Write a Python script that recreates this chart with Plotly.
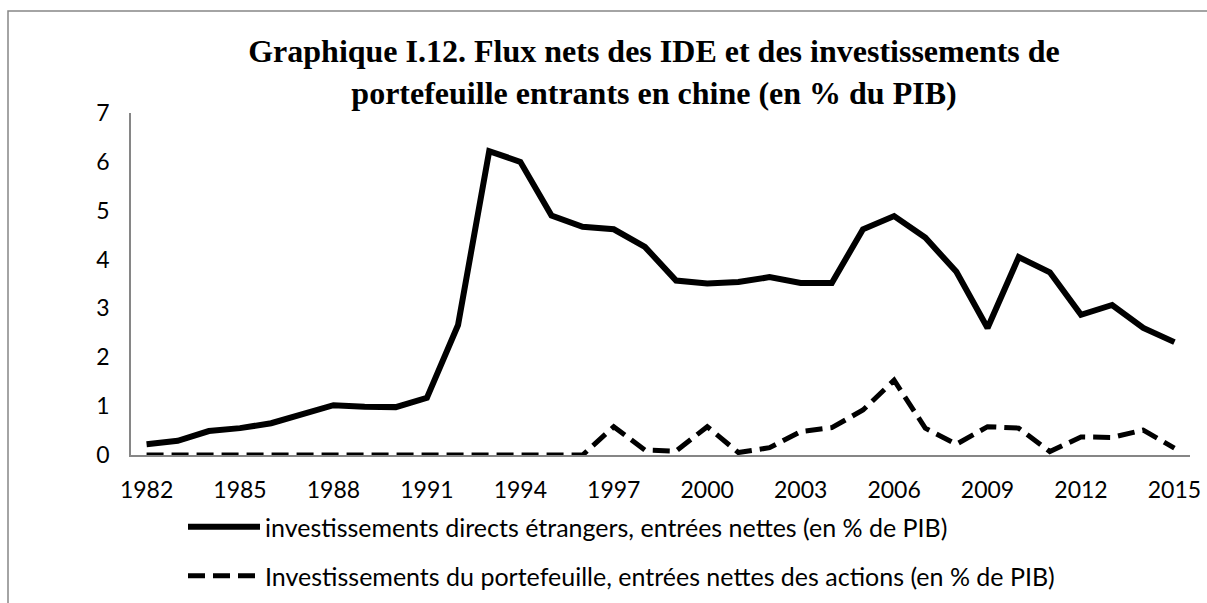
import plotly.graph_objects as go

years = [str(y) for y in range(1982, 2016)]
ide = [0.22, 0.29, 0.49, 0.55, 0.65, 0.85, 1.02, 0.99, 0.98, 1.17, 2.66, 6.22, 6.0, 4.9,
       4.67, 4.62, 4.26, 3.57, 3.51, 3.54, 3.64, 3.52, 3.52, 4.62, 4.89, 4.45, 3.75, 2.6,
       4.05, 3.74, 2.87, 3.07, 2.6, 2.31]
portefeuille = [0.0, 0.0, 0.0, 0.0, 0.0, 0.0, 0.0, 0.0, 0.0, 0.0, 0.0, 0.0, 0.0, 0.0,
                0.0, 0.58, 0.1, 0.08, 0.58, 0.05, 0.15, 0.48, 0.56, 0.92, 1.53, 0.55, 0.22,
                0.58, 0.55, 0.07, 0.37, 0.36, 0.51, 0.14]

name_ide = "investissements directs étrangers, entrées nettes (en % de PIB)"
name_pf = "Investissements du portefeuille, entrées nettes des actions (en % de PIB)"
title_text = ("Graphique I.12. Flux nets des IDE et des investissements de<br>"
              "portefeuille entrants en chine (en % du PIB)")

W, H = 1207, 603
L, R, T, B = 131, 17, 113, 148
pw, ph = W - L - R, H - T - B

def px(x):
    return (x - L) / pw

def py(y):
    return (H - B - y) / ph

fig = go.Figure()
fig.add_trace(go.Scatter(x=years, y=portefeuille, mode="lines", name=name_pf,
                         line=dict(color="black", width=5, dash="17px,8px"),
                         legend="legend2"))
fig.add_trace(go.Scatter(x=years, y=ide, mode="lines", name=name_ide,
                         line=dict(color="black", width=6), legend="legend"))

tick_font = dict(family="Lato, Calibri, Carlito, sans-serif", size=23, color="black")
legend_font = dict(family="Lato, Calibri, Carlito, sans-serif", size=25, color="black")

border_path = "M {x0},{y0} L {x0},{y1} L {x1},{y1}".format(
    x0=px(8), y0=py(620), y1=py(11), x1=px(1230))

fig.update_layout(
    width=W, height=H,
    margin=dict(l=L, r=R, t=T, b=B, autoexpand=False),
    paper_bgcolor="white", plot_bgcolor="white",
    title=dict(text=title_text, x=px(654), xref="paper", xanchor="center",
               y=1 - 62 / H, yref="container", yanchor="top",
               font=dict(family="Liberation Serif, Times New Roman, serif", size=32,
                         color="black", weight="bold")),
    xaxis=dict(type="category", tickmode="linear", tick0=0, dtick=3,
               range=[-0.5, len(years) - 0.5],
               showline=True, linecolor="#868686", linewidth=1.5,
               showgrid=False, zeroline=False, ticks="",
               tickfont=tick_font, ticklabelstandoff=14),
    yaxis=dict(range=[0, 7], dtick=1, showline=True, linecolor="#868686",
               linewidth=1.5, showgrid=False, zeroline=False, ticks="",
               tickfont=tick_font, ticklabelstandoff=15),
    showlegend=True,
    legend=dict(x=183 / W, y=1 - 527 / H, xref="container", yref="container",
                xanchor="left", yanchor="middle",
                orientation="h", itemwidth=72, font=legend_font,
                bgcolor="rgba(0,0,0,0)"),
    legend2=dict(x=183 / W, y=1 - 576 / H, xref="container", yref="container",
                 xanchor="left", yanchor="middle",
                 orientation="h", itemwidth=72, font=legend_font,
                 bgcolor="rgba(0,0,0,0)"),
    shapes=[dict(type="path", xref="paper", yref="paper", path=border_path,
                 line=dict(color="#868686", width=1.5), layer="below")],
)

fig.write_html("out.html", config={"displayModeBar": False},
               post_script="document.body.style.margin='0px';")
